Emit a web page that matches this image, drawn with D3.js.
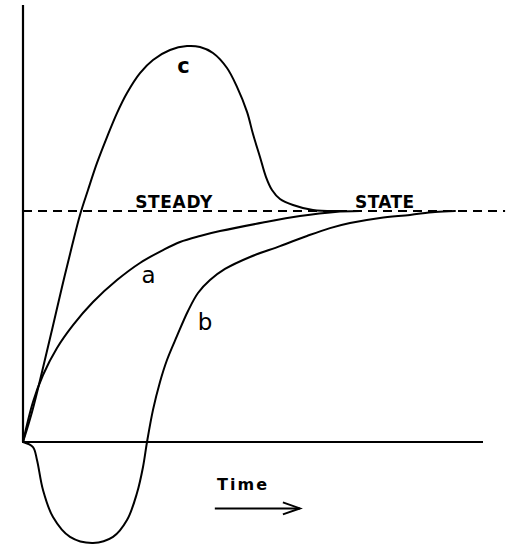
<!DOCTYPE html>
<html>
<head>
<meta charset="utf-8">
<script src="https://cdn.jsdelivr.net/npm/d3@7"></script>
<style>
  html, body { margin: 0; padding: 0; background: #fff; }
  svg { display: block; }
  text { font-family: "DejaVu Sans", sans-serif; fill: #000; }
</style>
</head>
<body>
<svg id="chart" width="511" height="545"></svg>
<script>
// Time (arbitrary units, 0..100) and response (steady state = 1)
const curveAT = [0, 2.17, 4.35, 7.39, 10.87, 15.22, 20.43, 25.43, 30.43, 34.13, 38.48, 42.83, 52.17, 60.22, 67.83, 73.26];
const curveAV = [0, 0.173, 0.29, 0.407, 0.506, 0.606, 0.701, 0.775, 0.831, 0.866, 0.892, 0.913, 0.95, 0.978, 0.996, 1.0];

const curveBT = [0, 2.17, 3.04, 4.35, 6.52, 10.22, 15.22, 19.57, 22.61, 24.78, 26.09, 26.96, 28.26, 29.78, 31.3, 33.48, 35.87, 38.04, 40.65, 43.91, 49.35, 55.87, 61.74, 66.74, 71.09, 77.61, 84.13, 89.57, 93.91];
const curveBV = [0, -0.022, -0.078, -0.208, -0.325, -0.411, -0.437, -0.411, -0.338, -0.221, -0.108, 0, 0.139, 0.26, 0.355, 0.459, 0.567, 0.645, 0.701, 0.749, 0.801, 0.848, 0.892, 0.926, 0.948, 0.97, 0.983, 0.996, 1.0];

const curveCT = [0, 1.96, 4.13, 6.3, 8.48, 10.65, 12.39, 14.13, 16.09, 18.26, 20.43, 22.61, 25.43, 28.26, 31.96, 35.65, 38.48, 41.3, 44.35, 46.52, 48.7, 50.0, 51.52, 52.83, 54.13, 55.87, 58.7, 63.04, 68.91];
const curveCV = [0, 0.13, 0.303, 0.485, 0.671, 0.848, 0.983, 1.091, 1.208, 1.32, 1.424, 1.511, 1.597, 1.654, 1.697, 1.714, 1.71, 1.684, 1.619, 1.537, 1.429, 1.333, 1.234, 1.147, 1.091, 1.052, 1.026, 1.004, 1.0];

const steadyValue = 1.0;
const steadyEnd = 104.8;
const curveLabels = ["a", "b", "c"];
const labelTexts = ["STEADY", "STATE", "Time"];

const svg = d3.select("#chart");
const x = d3.scaleLinear().domain([0, 100]).range([23, 483]);
const y = d3.scaleLinear().domain([0, 1]).range([442, 211]);
const yTop = 1.892;

// Axes
svg.append("line")
  .attr("x1", x(0)).attr("x2", x(0))
  .attr("y1", y(0)).attr("y2", y(yTop))
  .attr("stroke", "#000").attr("stroke-width", 2.2);
svg.append("line")
  .attr("x1", x(0)).attr("x2", x(100))
  .attr("y1", y(0)).attr("y2", y(0))
  .attr("stroke", "#000").attr("stroke-width", 2);

// Steady state dashed line
svg.append("line")
  .attr("x1", x(0)).attr("x2", x(steadyEnd))
  .attr("y1", y(steadyValue)).attr("y2", y(steadyValue))
  .attr("stroke", "#000").attr("stroke-width", 2)
  .attr("stroke-dasharray", "9,6");

const line = d3.line()
  .x(d => x(d[0])).y(d => y(d[1]))
  .curve(d3.curveCatmullRom.alpha(0.5));

const series = [
  d3.zip(curveAT, curveAV),
  d3.zip(curveBT, curveBV),
  d3.zip(curveCT, curveCV)
];
series.forEach(s => {
  svg.append("path")
    .attr("d", line(s))
    .attr("fill", "none")
    .attr("stroke", "#000")
    .attr("stroke-width", 2)
    .attr("stroke-linejoin", "round")
    .attr("stroke-linecap", "round");
});

// Curve labels
const curveLabelPos = [[27.28, 0.688], [39.57, 0.485], [34.9, 1.597]];
curveLabels.forEach((lab, i) => {
  svg.append("text")
    .attr("x", x(curveLabelPos[i][0]))
    .attr("y", y(curveLabelPos[i][1]))
    .attr("text-anchor", "middle")
    .attr("font-size", lab === "c" ? 21 : 23)
    .attr("font-weight", lab === "c" ? "bold" : "normal")
    .text(lab);
});

// STEADY / STATE labels
svg.append("text")
  .attr("x", x(24.4)).attr("y", y(1.015))
  .attr("font-size", 17).attr("font-weight", "bold")
  .attr("textLength", 77)
  .text(labelTexts[0]);
svg.append("text")
  .attr("x", x(72.2)).attr("y", y(1.015))
  .attr("font-size", 17).attr("font-weight", "bold")
  .attr("textLength", 59)
  .text(labelTexts[1]);

// Time label and arrow
svg.append("text")
  .attr("x", x(42.2)).attr("y", y(-0.2078))
  .attr("font-size", 16).attr("font-weight", "bold")
  .attr("textLength", 50)
  .text(labelTexts[2]);

const ay = y(-0.2875);
svg.append("line")
  .attr("x1", x(41.7)).attr("x2", x(60.2))
  .attr("y1", ay).attr("y2", ay)
  .attr("stroke", "#000").attr("stroke-width", 2);
svg.append("path")
  .attr("d", d3.line()([[x(56.5), ay - 6], [x(60.2), ay], [x(56.5), ay + 6]]))
  .attr("fill", "none").attr("stroke", "#000").attr("stroke-width", 2)
  .attr("stroke-linejoin", "miter");
</script>
</body>
</html>
